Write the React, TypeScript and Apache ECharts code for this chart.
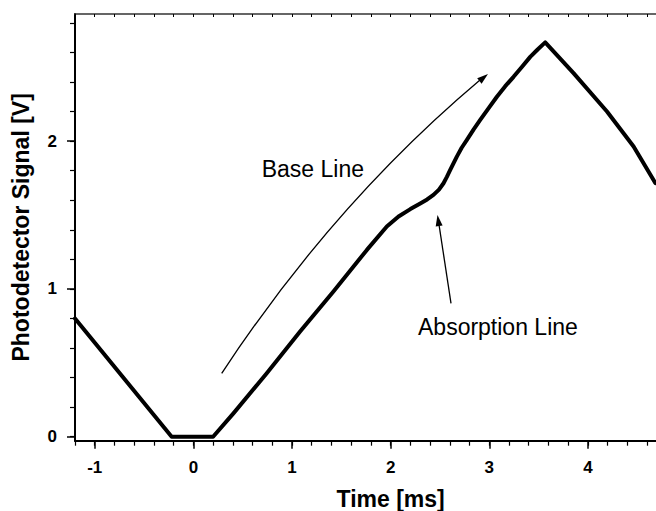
import React, { useEffect, useRef } from "react";
import * as echarts from "echarts";

// Data
const timeMs = [
  -1.2, -0.22, 0.2, 0.406, 0.744, 1.082, 1.42, 1.759, 1.961, 2.08, 2.2, 2.3, 2.37, 2.434,
  2.49, 2.536, 2.57, 2.604, 2.671, 2.72, 2.773, 2.84, 2.908, 2.99, 3.077, 3.16, 3.246,
  3.33, 3.415, 3.49, 3.567, 3.854, 4.193, 4.463, 4.683,
];
const signalV = [
  0.8, 0.0, 0.0, 0.158, 0.429, 0.711, 0.982, 1.264, 1.422, 1.49, 1.54, 1.578, 1.605, 1.636,
  1.672, 1.715, 1.758, 1.805, 1.895, 1.955, 2.008, 2.078, 2.143, 2.22, 2.3, 2.37, 2.435,
  2.502, 2.57, 2.62, 2.668, 2.46, 2.2, 1.963, 1.716,
];

const xLabelTicks = [-1, 0, 1, 2, 3, 4];
const yLabelTicks = [0, 1, 2];
const xRange = [-1.2, 5.2];
const yRange = [-0.027, 2.86];
const minorStep = 0.2;

const xTitle = "Time [ms]";
const yTitle = "Photodetector Signal [V]";
const baseLineText = "Base Line";
const absorptionText = "Absorption Line";

function stepValues(from: number, to: number, step: number): number[] {
  const out: number[] = [];
  const n = Math.round((to - from) / step);
  for (let i = 0; i <= n; i++) out.push(Math.round((from + i * step) * 1000) / 1000);
  return out;
}

const FONT = "'Liberation Sans', Arial, Helvetica, sans-serif";

export default function App() {
  const ref = useRef<HTMLDivElement>(null);

  useEffect(() => {
    if (!ref.current) return;
    const chart = echarts.init(ref.current, undefined, { renderer: "svg" });

    const xMinor = stepValues(xRange[0], xRange[1], minorStep);
    const yMinor = stepValues(0, 2.8, minorStep);
    const points = timeMs.map((t, i) => [t, signalV[i]]);

    const labelStyle = {
      color: "#000",
      fontFamily: FONT,
      fontWeight: "bold" as const,
      fontSize: 17,
    };

    const option: any = {
      animation: false,
      backgroundColor: "#fff",
      grid: {
        left: 75,
        top: 14,
        right: -50.3,
        bottom: 70.3,
        containLabel: false,
        outerBoundsMode: "none",
      },
      xAxis: [
        {
          type: "value",
          position: "bottom",
          min: xRange[0],
          max: xRange[1],
          name: xTitle,
          nameLocation: "middle",
          nameGap: 47,
          nameTextStyle: { color: "#000", fontFamily: FONT, fontWeight: "bold", fontSize: 23 },
          axisLine: { show: true, onZero: false, lineStyle: { color: "#000", width: 2 } },
          axisTick: {
            show: true,
            inside: false,
            length: 8,
            customValues: xLabelTicks,
            lineStyle: { color: "#000", width: 1.5 },
          },
          axisLabel: { show: true, customValues: xLabelTicks, margin: 18, ...labelStyle },
          splitLine: { show: false },
        },
        {
          type: "value",
          position: "bottom",
          min: xRange[0],
          max: xRange[1],
          axisLine: { show: false, onZero: false },
          axisTick: {
            show: true,
            inside: false,
            length: 5,
            customValues: xMinor,
            lineStyle: { color: "#000", width: 1.2 },
          },
          axisLabel: { show: false },
          splitLine: { show: false },
        },
        {
          type: "value",
          position: "top",
          min: xRange[0],
          max: xRange[1],
          axisLine: { show: true, onZero: false, lineStyle: { color: "#333", width: 1.5 } },
          axisTick: {
            show: true,
            inside: true,
            length: 3,
            customValues: xMinor,
            lineStyle: { color: "#000", width: 1 },
          },
          axisLabel: { show: false },
          splitLine: { show: false },
        },
      ],
      yAxis: [
        {
          type: "value",
          position: "left",
          min: yRange[0],
          max: yRange[1],
          name: yTitle,
          nameLocation: "middle",
          nameGap: 43,
          nameRotate: 90,
          nameTextStyle: { color: "#000", fontFamily: FONT, fontWeight: "bold", fontSize: 23 },
          axisLine: { show: true, onZero: false, lineStyle: { color: "#000", width: 2 } },
          axisTick: {
            show: true,
            inside: false,
            length: 8,
            customValues: yLabelTicks,
            lineStyle: { color: "#000", width: 1.5 },
          },
          axisLabel: { show: true, customValues: yLabelTicks, margin: 18, ...labelStyle },
          splitLine: { show: false },
        },
        {
          type: "value",
          position: "left",
          min: yRange[0],
          max: yRange[1],
          axisLine: { show: false, onZero: false },
          axisTick: {
            show: true,
            inside: false,
            length: 5,
            customValues: yMinor,
            lineStyle: { color: "#000", width: 1.2 },
          },
          axisLabel: { show: false },
          splitLine: { show: false },
        },
      ],
      series: [
        {
          type: "line",
          xAxisIndex: 0,
          yAxisIndex: 0,
          data: points,
          showSymbol: false,
          symbol: "none",
          smooth: false,
          clip: true,
          lineStyle: { color: "#000", width: 4, join: "round", cap: "round" },
        },
      ],
    };

    chart.setOption(option);

    // Annotations: arrows and labels, placed in pixel space over the plot
    const baseArrowHead = [
      [488, 74],
      [481.6, 83.8],
      [477.2, 78.2],
    ];
    const absArrowHead = [
      [437.5, 215],
      [442.6, 225.4],
      [435.7, 226.4],
    ];

    chart.setOption({
      graphic: [
        {
          type: "bezierCurve",
          silent: true,
          shape: { x1: 221.7, y1: 373.3, cpx1: 334, cpy1: 203, x2: 480, y2: 80 },
          style: { stroke: "#000", lineWidth: 1.3, fill: null },
        },
        {
          type: "polygon",
          silent: true,
          shape: { points: baseArrowHead },
          style: { fill: "#000" },
        },
        {
          type: "line",
          silent: true,
          shape: { x1: 451, y1: 303.3, x2: 439.2, y2: 225.9 },
          style: { stroke: "#000", lineWidth: 1.3 },
        },
        {
          type: "polygon",
          silent: true,
          shape: { points: absArrowHead },
          style: { fill: "#000" },
        },
        {
          type: "text",
          silent: true,
          x: 261.7,
          y: 168.5,
          style: {
            text: baseLineText,
            fill: "#000",
            font: `23px ${FONT}`,
            align: "left",
            verticalAlign: "middle",
          },
        },
        {
          type: "text",
          silent: true,
          x: 418,
          y: 327,
          style: {
            text: absorptionText,
            fill: "#000",
            font: `23px ${FONT}`,
            align: "left",
            verticalAlign: "middle",
          },
        },
      ],
    });

    return () => chart.dispose();
  }, []);

  return (
    <div
      ref={ref}
      style={{ position: "absolute", left: 0, top: 0, width: 656, height: 511, background: "#fff" }}
    />
  );
}
